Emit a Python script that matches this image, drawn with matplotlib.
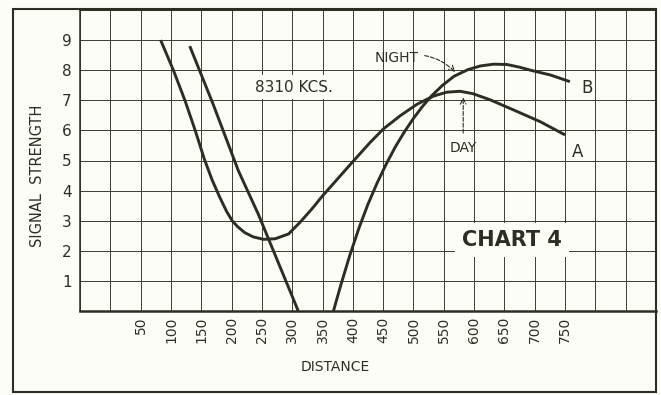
import matplotlib.pyplot as plt
from matplotlib.patches import Rectangle

# curve A - day
day_dist = [83, 104, 123, 140, 155, 168, 180, 192, 201, 210, 222, 236, 253, 272, 294, 313, 332, 349,
            374, 399, 429, 451, 479, 506, 533, 555, 577, 598, 626, 665, 709, 750]
day_sig = [9.0, 8.0, 7.0, 6.0, 5.05, 4.35, 3.8, 3.3, 3.0, 2.8, 2.6, 2.46, 2.38, 2.4, 2.56, 2.95, 3.38, 3.8,
           4.37, 4.94, 5.61, 6.06, 6.5, 6.87, 7.14, 7.27, 7.3, 7.22, 7.02, 6.68, 6.29, 5.85]

# curve B - night, before and after the skip zone
night_near_dist = [131, 169, 211, 244, 310]
night_near_sig = [8.8, 6.9, 4.67, 3.22, 0.0]
night_far_dist = [368, 380, 395, 410, 425, 440, 455, 470, 485, 500, 515, 530, 548, 567,
                  590, 610, 632, 654, 675, 693, 726, 758]
night_far_sig = [0.0, 0.85, 1.85, 2.75, 3.55, 4.25, 4.88, 5.45, 5.95, 6.4, 6.8, 7.15, 7.5, 7.8,
                 8.02, 8.14, 8.2, 8.19, 8.1, 8.0, 7.84, 7.62]

x_grid = list(range(-50, 901, 50))
x_labels = [50, 100, 150, 200, 250, 300, 350, 400, 450, 500, 550, 600, 650, 700, 750]
y_grid = list(range(0, 11))
y_labels = [1, 2, 3, 4, 5, 6, 7, 8, 9]

ink = '#2c2e24'
gridc = '#3b3e32'
paper = '#fdfdf7'

fig = plt.figure(figsize=(6.61, 3.95), dpi=100, facecolor=paper)
ax = fig.add_axes([80 / 661, 1 - 311 / 395, 576 / 661, 301 / 395])
ax.set_facecolor(paper)

# outer frame of the figure
fig.patches.append(Rectangle((13 / 661, 1 - 392 / 395), 643 / 661, 383 / 395,
                             transform=fig.transFigure, fill=False,
                             edgecolor=ink, lw=1.5))

ax.set_xlim(-50, 900)
ax.set_ylim(0, 10)
ax.set_xticks(x_grid)
ax.set_xticklabels([str(v) if v in x_labels else '' for v in x_grid],
                   rotation=90, fontsize=10, color=ink)
ax.set_yticks(y_grid)
ax.set_yticklabels([str(v) if v in y_labels else '' for v in y_grid],
                   fontsize=11, color=ink)
ax.tick_params(length=0)
ax.tick_params(axis='x', pad=4)
ax.tick_params(axis='y', pad=6)
ax.grid(True, color=gridc, lw=0.7)
ax.set_axisbelow(True)
for s in ax.spines.values():
    s.set_color(ink)
    s.set_linewidth(1.1)
ax.spines['bottom'].set_linewidth(1.8)

for xs, ys in [(day_dist, day_sig), (night_near_dist, night_near_sig),
               (night_far_dist, night_far_sig)]:
    ax.plot(xs, ys, color=ink, lw=2.1, solid_capstyle='butt', solid_joinstyle='round')

ax.set_xlabel('DISTANCE', fontsize=10, color=ink)
ax.xaxis.set_label_coords(0.444, -0.163)
ax.set_ylabel('SIGNAL  STRENGTH', fontsize=10.5, color=ink, va='center')
ax.yaxis.set_label_coords(-0.073, 0.449)

ax.text(239, 7.44, '8310 KCS.', fontsize=11, color=ink, ha='left', va='center',
        bbox=dict(facecolor=paper, edgecolor='none', pad=3))
ax.text(663, 2.35, 'CHART 4', fontsize=15, fontweight='semibold', color=ink,
        ha='center', va='center',
        bbox=dict(facecolor=paper, edgecolor='none', pad=5))
ax.text(786, 7.41, 'B', fontsize=12, color=ink, ha='center', va='center')
ax.text(770, 5.28, 'A', fontsize=12, color=ink, ha='center', va='center')

ax.annotate('NIGHT', xy=(569, 7.94), xytext=(473, 8.4), fontsize=10, color=ink,
            ha='center', va='center',
            arrowprops=dict(arrowstyle='->', linestyle='--', color=ink, lw=0.8,
                            connectionstyle='arc3,rad=-0.3', shrinkA=2, shrinkB=0))
ax.annotate('DAY', xy=(582, 7.1), xytext=(582, 5.4), fontsize=10, color=ink,
            ha='center', va='center',
            arrowprops=dict(arrowstyle='->', linestyle='--', color=ink, lw=0.8,
                            shrinkA=4, shrinkB=0))

fig.savefig('out.png', dpi=100, facecolor=paper)
